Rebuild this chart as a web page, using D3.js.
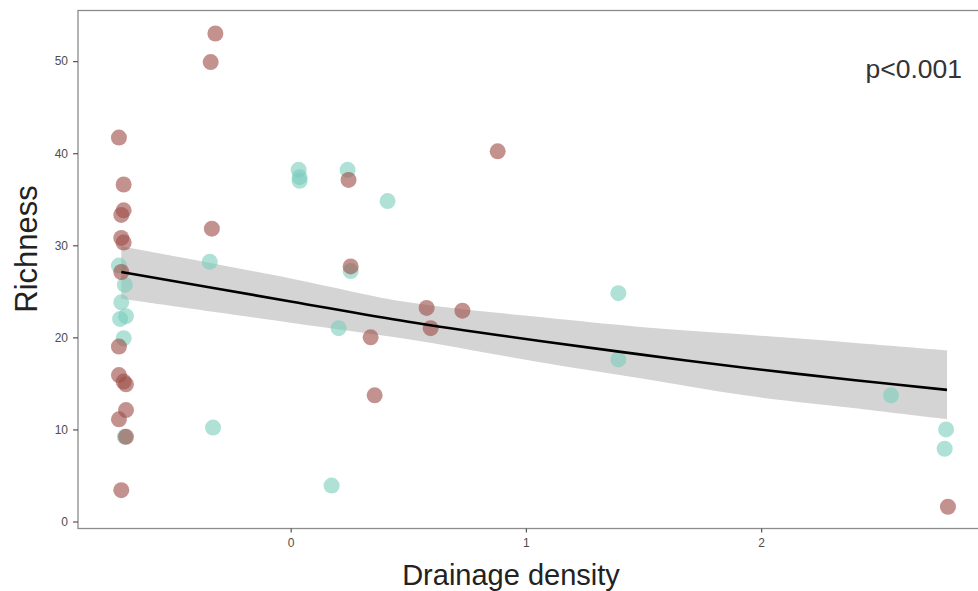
<!DOCTYPE html>
<html>
<head>
<meta charset="utf-8">
<script src="https://cdn.jsdelivr.net/npm/d3@7"></script>
<style>
  html, body { margin: 0; padding: 0; background: #fff; }
  svg { display: block; }
</style>
</head>
<body>
<script>
// ---- Data ----
const redX = [-0.73, -0.71, -0.71, -0.72, -0.72, -0.71, -0.72, -0.73, -0.73, -0.71, -0.70, -0.70, -0.73, -0.72, -0.70,
              -0.32, -0.34, -0.335, 0.246, 0.255, 0.34, 0.357, 0.578, 0.595, 0.73, 0.88, 2.794];
const redY = [41.7, 36.6, 33.8, 33.3, 30.8, 30.3, 27.1, 19.0, 15.9, 15.2, 14.9, 12.1, 11.1, 3.4, 9.2,
              53.0, 49.9, 31.8, 37.1, 27.7, 20.0, 13.7, 23.2, 21.0, 22.9, 40.2, 1.6];

const tealX = [-0.73, -0.705, -0.72, -0.725, -0.70, -0.71, -0.705,
               -0.344, -0.33, 0.034, 0.038, 0.038, 0.242, 0.255, 0.204, 0.174, 0.412,
               1.393, 1.393, 2.552, 2.786, 2.78];
const tealY = [27.8, 25.7, 23.8, 22.0, 22.3, 19.9, 9.2,
               28.2, 10.2, 38.2, 37.4, 37.0, 38.2, 27.2, 21.0, 3.9, 34.8,
               24.8, 17.6, 13.7, 10.0, 7.9];

// fitted curve and confidence band
const fitX  = [-0.72, 0, 0.5, 1.06, 1.5, 1.93, 2.4, 2.79];
const fitY  = [27.1, 23.9, 21.7, 19.6, 18.1, 16.7, 15.35, 14.3];
const fitLo = [24.2, 21.6, 19.8, 17.3, 15.5, 13.7, 12.3, 11.1];
const fitHi = [29.9, 26.4, 23.8, 22.2, 21.1, 20.3, 19.4, 18.6];

const xTicks = [0, 1, 2];
const yTicks = [0, 10, 20, 30, 40, 50];

const xTitle = "Drainage density";
const yTitle = "Richness";
const pLabel = "p<0.001";

// ---- Layout ----
const W = 978, H = 591;
const panel = { left: 78, top: 10.5, right: 995, bottom: 528.5 };

const x = d3.scaleLinear().domain([-0.904, 2.994]).range([panel.left, panel.right]);
const y = d3.scaleLinear().domain([-0.76, 55.5]).range([panel.bottom, panel.top]);

const svg = d3.select("body").append("svg").attr("width", W).attr("height", H)
  .style("font-family", "'Liberation Sans', Arial, Helvetica, sans-serif");

svg.append("rect").attr("width", W).attr("height", H).attr("fill", "#fff");

svg.append("clipPath").attr("id", "clip").append("rect")
  .attr("x", panel.left).attr("y", panel.top)
  .attr("width", panel.right - panel.left).attr("height", panel.bottom - panel.top);

const g = svg.append("g").attr("clip-path", "url(#clip)");

// confidence band
const bandData = fitX.map((d, i) => ({ x: d, lo: fitLo[i], hi: fitHi[i], y: fitY[i] }));
g.append("path").datum(bandData)
  .attr("fill", "#d4d4d4")
  .attr("d", d3.area().x(d => x(d.x)).y0(d => y(d.lo)).y1(d => y(d.hi)).curve(d3.curveCatmullRom));

// points
g.selectAll("circle.teal").data(tealX.map((v, i) => ({ x: v, y: tealY[i] }))).join("circle")
  .attr("class", "teal")
  .attr("cx", d => x(d.x)).attr("cy", d => y(d.y)).attr("r", 8)
  .attr("fill", "#79cdbd").attr("fill-opacity", 0.6);
g.selectAll("circle.red").data(redX.map((v, i) => ({ x: v, y: redY[i] }))).join("circle")
  .attr("class", "red")
  .attr("cx", d => x(d.x)).attr("cy", d => y(d.y)).attr("r", 8)
  .attr("fill", "#9e4f49").attr("fill-opacity", 0.62);

// fitted line
g.append("path").datum(bandData)
  .attr("fill", "none").attr("stroke", "#000").attr("stroke-width", 2.6)
  .attr("d", d3.line().x(d => x(d.x)).y(d => y(d.y)).curve(d3.curveCatmullRom));

// panel border
svg.append("rect")
  .attr("x", panel.left).attr("y", panel.top)
  .attr("width", panel.right - panel.left).attr("height", panel.bottom - panel.top)
  .attr("fill", "none").attr("stroke", "#8c8c8c").attr("stroke-width", 1.3);

// axes
const xAxis = svg.append("g").attr("transform", `translate(0,${panel.bottom})`)
  .call(d3.axisBottom(x).tickValues(xTicks).tickSize(4).tickPadding(6).tickFormat(d3.format("d")));
const yAxis = svg.append("g").attr("transform", `translate(${panel.left},0)`)
  .call(d3.axisLeft(y).tickValues(yTicks).tickSize(5).tickPadding(5).tickFormat(d3.format("d")));
[xAxis, yAxis].forEach(a => {
  a.select(".domain").remove();
  a.selectAll(".tick line").attr("stroke", "#555").attr("stroke-width", 1.2);
  a.selectAll(".tick text").attr("fill", "#4d4d4d").style("font-size", "12px")
    .style("font-family", "'Liberation Sans', Arial, sans-serif");
});

// titles
svg.append("text").attr("x", 511).attr("y", 585).attr("text-anchor", "middle")
  .attr("fill", "#222").style("font-size", "29px").text(xTitle);
svg.append("text").attr("transform", `translate(37,${249}) rotate(-90)`)
  .attr("text-anchor", "middle").attr("fill", "#222").style("font-size", "31px").text(yTitle);

svg.append("text").attr("x", 962).attr("y", 78).attr("text-anchor", "end")
  .attr("fill", "#333").style("font-size", "26.5px").text(pLabel);
</script>
</body>
</html>
